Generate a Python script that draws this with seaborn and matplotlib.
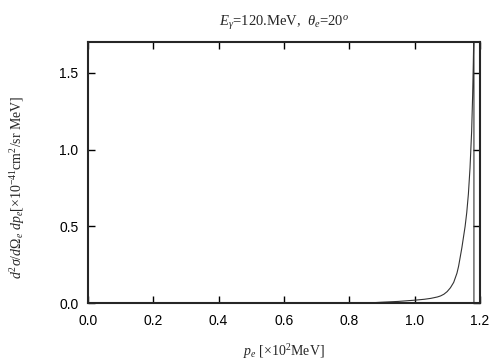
import matplotlib
matplotlib.use("Agg")
import matplotlib.pyplot as plt
import pandas as pd
import seaborn as sns

# electron momentum [x10^2 MeV] and cross section [x10^-41 cm^2/sr MeV]
p_e = [0.0, 0.85, 0.90, 0.95, 1.00, 1.03, 1.05, 1.07, 1.08, 1.09, 1.10,
       1.11, 1.12, 1.13, 1.135, 1.14, 1.145, 1.15, 1.155, 1.16, 1.165,
       1.17, 1.175, 1.178, 1.18, 1.182, 1.182]
dsigma = [0.0, 0.0, 0.006, 0.011, 0.019, 0.025, 0.031, 0.040, 0.047, 0.058,
          0.075, 0.100, 0.135, 0.195, 0.24, 0.30, 0.36, 0.43, 0.50, 0.59,
          0.71, 0.88, 1.12, 1.35, 1.55, 1.80, 0.0]

df = pd.DataFrame({"p": p_e, "ds": dsigma})

sns.set_style("ticks")
plt.rcParams["font.family"] = ["Liberation Sans", "DejaVu Sans"]
plt.rcParams["mathtext.fontset"] = "custom"
plt.rcParams["mathtext.rm"] = "Liberation Serif"
plt.rcParams["mathtext.it"] = "Liberation Serif:italic"
plt.rcParams["mathtext.bf"] = "Liberation Serif:bold"

fig = plt.figure(figsize=(5.04, 3.6), dpi=100)
ax = fig.add_axes([0.1746, 0.158, 0.7774, 0.725])

sns.lineplot(data=df, x="p", y="ds", ax=ax, color="#333333", lw=0.8,
             sort=False, estimator=None)

ax.set_xlim(0, 1.2)
ax.set_ylim(0, 1.7)
ax.set_xticks([0.0, 0.2, 0.4, 0.6, 0.8, 1.0, 1.2])
ax.set_yticks([0.0, 0.5, 1.0, 1.5])
ax.xaxis.set_major_formatter(matplotlib.ticker.FormatStrFormatter("%.1f"))
ax.yaxis.set_major_formatter(matplotlib.ticker.FormatStrFormatter("%.1f"))
ax.tick_params(direction="in", length=5, width=1, labelsize=10,
               top=True, right=True, colors="black")
ax.tick_params(axis="x", pad=8)
ax.tick_params(axis="y", pad=7)
for s in ax.spines.values():
    s.set_linewidth(1.5)
    s.set_visible(True)

serif = ["Liberation Serif", "DejaVu Serif"]
ax.set_title(r"$E_\gamma$=120.MeV,  $\theta_e$=20$^o$", fontsize=10.5,
             family=serif, pad=12)
ax.set_xlabel(r"$p_e$ [×10$^2$MeV]", fontsize=10, family=serif)
ax.set_ylabel(r"$d^2\sigma/d\Omega_e\ dp_e$[×10$^{-41}$cm$^2$/sr MeV]",
              fontsize=10, family=serif)
ax.xaxis.set_label_coords(0.5, -0.148)
ax.yaxis.set_label_coords(-0.155, 0.444)

fig.savefig("out.png", dpi=100)
